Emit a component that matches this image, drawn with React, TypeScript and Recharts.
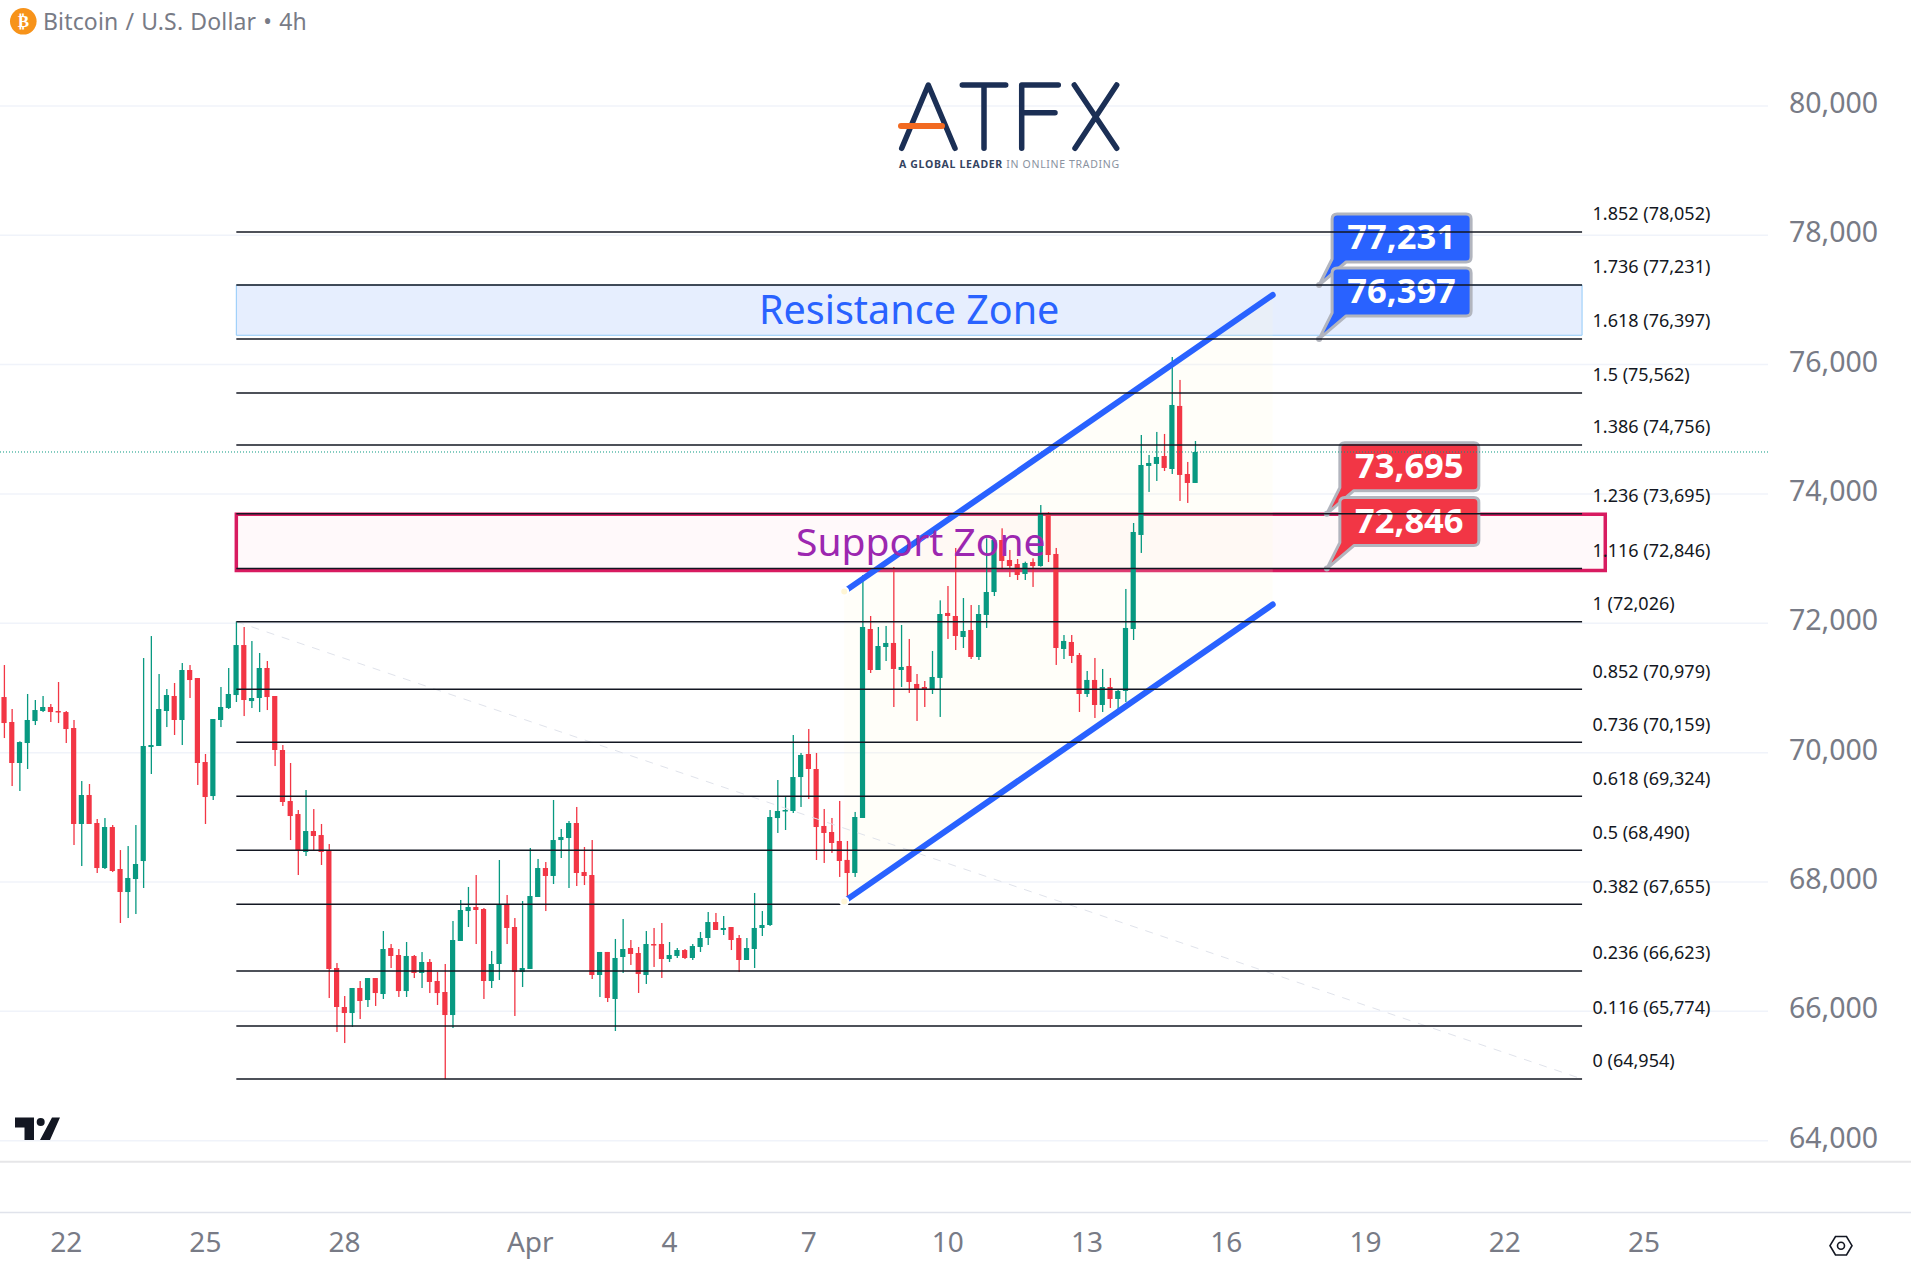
import React from "react";
import {Area, Bar, CartesianGrid, ComposedChart, ReferenceArea, ReferenceDot, ReferenceLine, XAxis, YAxis} from "recharts";

const highs = [
    71355,70675,70175,70907,70814,70876,70752,71092,70644,70505,
    69561,69515,68974,68989,68881,68494,68556,68881,71463,71803,
    71216,70984,71077,71386,71355,71154,69979,70520,71015,71309,
    72030,71943,71726,71541,71417,70876,70118,69840,69113,69422,
    69128,68897,68587,66747,66237,66361,66469,66515,66515,67242,
    67041,66964,67072,66871,66917,66809,66608,66732,67397,67722,
    67923,68108,67598,66933,68340,67799,67443,67706,68526,68356,
    68309,69268,68819,68943,69160,68541,68649,66918,66918,67119,
    67428,67103,66995,67242,67289,67366,67072,66979,66964,67041,
    67227,67536,67521,67474,67304,67180,67134,67830,67551,69113,
    69577,69330,70273,69995,70366,69995,69129,68990,69253,68634,
    69083,72747,72113,71943,71959,72871,71974,71758,71216,71108,
    71572,72355,72577,73165,72391,72283,72283,73314,73314,73469,
    73134,72995,72953,73005,73829,73721,73165,71819,71819,71541,
    71263,71464,71294,71155,70984,72531,73551,74912,74603,74959,
    74928,76118,75763,74495,74819,
];
const opens = [
    70860,70474,69840,70149,70489,70644,70706,70644,70628,70381,
    68897,69345,68912,68216,68850,68201,67845,68046,68324,70087,
    70103,70644,70876,70505,71278,71154,69855,69329,70505,70690,
    70891,71664,70798,70845,71309,70876,70041,69252,69051,68464,
    68788,68726,68489,66670,66067,65974,66361,66175,66515,66268,
    66979,66871,66314,66856,66593,66763,66469,66299,65943,67088,
    67551,67613,67582,66469,66732,67660,67304,66608,66655,67768,
    68216,68093,68649,68680,68912,68154,68108,66562,66918,66191,
    66840,66979,66902,66562,67041,67041,66809,66856,66948,66825,
    66995,67134,67381,67258,67304,67134,66794,66964,67289,67335,
    68989,69103,69098,69623,69979,69747,68866,68773,68634,68341,
    68139,68990,71912,71278,71634,71696,71278,71340,71062,71015,
    70969,71155,72160,72113,71788,71897,71479,72129,72484,73288,
    72979,72917,72763,72948,72886,73706,73072,71603,71711,71510,
    70907,71124,70737,71015,70830,70954,71912,73366,74433,74464,
    74587,74386,75361,74309,74170,
];
const closes = [
    70458,69840,70164,70505,70659,70706,70628,70633,70365,68897,
    69345,68897,68216,68850,68170,67845,68062,68278,70103,70118,
    70675,70891,70505,71278,71123,69840,69314,70520,70706,70907,
    71664,70814,70845,71309,70860,70041,69237,69020,68489,68788,
    68711,68464,66655,66067,65974,66361,66160,66515,66283,66964,
    66856,66314,66856,66593,66763,66454,66283,65943,67103,67567,
    67613,67567,66469,66732,67644,67289,66608,66670,67783,68216,
    68093,68649,68696,68912,68139,68093,66562,66918,66206,66825,
    66964,66887,66577,67041,67026,66809,66871,66948,66825,67010,
    67134,67381,67258,67289,67103,66794,66979,67289,67335,69005,
    69098,69113,69623,69964,69747,68850,68758,68603,68325,68139,
    69005,71943,71278,71649,71696,71294,71325,71093,70984,70984,
    71170,72144,72113,71804,71881,71479,72144,72484,73288,72964,
    72886,72747,72933,72886,73706,73056,71618,71727,71495,70907,
    71124,70737,71015,70830,70954,71928,73412,74448,74479,74572,
    74402,75376,74294,74170,74649,
];
const lows = [
    70226,69484,69407,69747,70427,70628,70474,70458,70149,68572,
    68247,68897,68139,68201,68154,67366,67443,67505,67907,69670,
    70103,70396,70273,70118,70845,69500,68897,69268,70396,70675,
    70783,70566,70690,70628,70659,69793,69175,68649,68108,68402,
    68479,68263,66206,65680,65510,65758,65881,66067,66083,66191,
    66670,66222,66222,66515,66361,66283,66098,64954,65742,67088,
    67304,67041,66191,66361,66485,67041,65928,66376,66655,67768,
    67551,67969,68371,67907,67938,67953,66500,66222,66144,65696,
    66593,66717,66284,66423,66686,66516,66763,66825,66809,66794,
    66918,67026,67258,67180,66948,66608,66794,66670,67165,67320,
    68758,68804,69067,69160,69283,68340,68294,68449,68078,67722,
    68078,68990,71232,71278,71417,70706,71015,70923,70490,70706,
    70907,70552,71758,71587,71618,71448,71433,71928,72422,72824,
    72716,72670,72670,72562,72876,72948,71356,71448,71386,70629,
    70861,70536,70629,70691,70613,70783,71742,73088,74031,74201,
    74355,74309,73892,73861,74170,
];

const priceTicks = [64000, 66000, 68000, 70000, 72000, 74000, 76000, 78000, 80000];
const dateTicks = [8, 26, 44, 68, 86, 104, 122, 140, 158, 176, 194, 212];
const dateLabels = ["22", "25", "28", "Apr", "4", "7", "10", "13", "16", "19", "22", "25"];

const fibRatios = ["1.852", "1.736", "1.618", "1.5", "1.386", "1.236", "1.116", "1", "0.852", "0.736", "0.618", "0.5", "0.382", "0.236", "0.116", "0"];
const fibPrices = [78052, 77231, 76397, 75562, 74756, 73695, 72846, 72026, 70979, 70159, 69324, 68490, 67655, 66623, 65774, 64954];

const channelBand = [
    {i: 108.6, band: [67700, 72490]},
    {i: 164, band: [72291, 77077]},
];
const calloutsBlue = [77231, 76397];
const calloutsRed = [73695, 72846];

const GREEN = "#089981";
const RED = "#f23645";
const GRAY = "#787b86";
const FONT = "'Noto Sans', sans-serif";

const rows = highs.map((h, i) => ({
    i,
    wick: [lows[i], h],
    body: [Math.min(opens[i], closes[i]), Math.max(opens[i], closes[i])],
    up: closes[i] >= opens[i],
}));

const CandlePart = (props: any) => {
    const {x, y, width, height, payload} = props;
    const h = Math.max(height, 1.5);
    return <rect x={x} y={y} width={width} height={h} fill={payload.up ? GREEN : RED} />;
};

const FibLabel = (props: any) => {
    const {viewBox, text} = props;
    return (
        <text x={viewBox.x + viewBox.width + 10.5} y={viewBox.y - 18} dy="0.35em" fontSize={18} fontFamily={FONT} fill="#131722">
            {text}
        </text>
    );
};

const Callout = (props: any) => {
    const {cx, cy, fill, dx, text} = props;
    const left = cx + dx;
    const top = cy - 71;
    const bottom = cy - 23;
    const right = left + 139;
    const d = `M${left + 5} ${top} H${right - 5} Q${right} ${top} ${right} ${top + 5} V${bottom - 5} Q${right} ${bottom} ${right - 5} ${bottom}`
        + ` H${left + 14} L${cx} ${cy} L${left} ${bottom - 3} V${top + 5} Q${left} ${top} ${left + 5} ${top} Z`;
    return (
        <g>
            <path d={d} fill={fill} stroke="#b2b5be" strokeWidth={3} strokeLinejoin="round" />
            <circle cx={cx} cy={cy} r={3} fill="#b2b5be" />
            <text x={left + 69.5} y={(top + bottom) / 2 - 1} dy="0.36em" textAnchor="middle" fontSize={34.5} fontWeight={700} fontFamily={FONT} fill="#ffffff">
                {text}
            </text>
        </g>
    );
};

// logo, title and the bits of TradingView frame that sit outside the plot
const Frame = () => (
    <svg width={1911} height={1277} style={{position: "absolute", left: 0, top: 0, pointerEvents: "none"}}>
        <circle cx={23.3} cy={21.3} r={13.3} fill="#f7931a" />
        <text x={23.3} y={21.3} dy="0.36em" textAnchor="middle" fontSize={17} fontWeight={700} fontFamily="'DejaVu Sans'" fill="#fff">₿</text>
        <text x={43} y={21.5} dy="0.36em" fontSize={23} letterSpacing={0.15} wordSpacing={1} fontFamily={FONT} fill={GRAY}>Bitcoin / U.S. Dollar • 4h</text>

        <g stroke="#1b2f55" strokeWidth={5.5} strokeLinecap="round" strokeLinejoin="round" fill="none">
            <path d="M901.7 148.3 L928.3 85 L955 148.3" />
            <path d="M962.3 85 H1005.7 M984 85 V148.3" />
            <path d="M1021.7 148.3 V85 H1058.3 M1021.7 112.7 H1055" />
            <path d="M1074.3 85 L1116.7 148.3 M1116.7 85 L1075 148.3" />
        </g>
        <path d="M901 126 H942" stroke="#f26a21" strokeWidth={6} strokeLinecap="round" />
        <text x={899} y={164} dy="0.36em" fontSize={10.5} letterSpacing={0.67} fontFamily={FONT} fill="#8a92a0">
            <tspan fontWeight={700} fill="#34435f">A GLOBAL LEADER</tspan> IN ONLINE TRADING
        </text>

        <path d="M15 1117.5 H34 V1140 H24.5 V1127.5 H15 Z M52 1117.5 H60 L50 1140 H40 Z" fill="#131722" />
        <circle cx={40.7} cy={1122} r={4} fill="#131722" />

        <line x1={0} x2={1911} y1={1161.7} y2={1161.7} stroke="#e6e6e8" strokeWidth={2} />
        <line x1={0} x2={1911} y1={1212.5} y2={1212.5} stroke="#e0e3eb" strokeWidth={1.5} />
        <polygon points="1830,1245.7 1835.5,1236.5 1846.5,1236.5 1852,1245.7 1846.5,1255 1835.5,1255" fill="none" stroke="#131722" strokeWidth={1.6} />
        <circle cx={1841} cy={1245.7} r={3.5} fill="none" stroke="#131722" strokeWidth={1.6} />
    </svg>
);

const App = () => {
    return (
        <div style={{position: "absolute", left: 0, top: 0, width: 1911, height: 1277, background: "#fff"}}>
            <ComposedChart width={1911} height={1277} data={rows} margin={{top: 0, right: 0, bottom: 0, left: 0}}>
                <CartesianGrid vertical={false} syncWithTicks stroke="#f0f3fa" strokeWidth={1.5} />
                <XAxis
                    dataKey="i"
                    type="number"
                    domain={[-0.556, 228.04]}
                    ticks={dateTicks}
                    interval={0}
                    height={115.3}
                    axisLine={false}
                    tickSize={0}
                    tickMargin={70}
                    tickFormatter={(v: number) => dateLabels[dateTicks.indexOf(v)]}
                    tick={{fontSize: 28, fill: GRAY, fontFamily: FONT}}
                />
                <XAxis xAxisId="bodies" dataKey="i" type="number" domain={[-0.556, 228.04]} hide />
                <YAxis
                    orientation="right"
                    width={143}
                    domain={[63675, 81638]}
                    ticks={priceTicks}
                    interval={0}
                    allowDataOverflow
                    axisLine={false}
                    tickSize={0}
                    tickMargin={21}
                    tickFormatter={(v: number) => v.toLocaleString("en-US")}
                    tick={{fontSize: 28.5, fill: GRAY, fontFamily: FONT, dy: -3}}
                />
                <ReferenceArea
                    x1={30}
                    x2={204}
                    y1={76454}
                    y2={77231}
                    fill="#e6eefe"
                    fillOpacity={1}
                    stroke="#90caf9"
                    strokeWidth={1}
                    label={{value: "Resistance Zone", fill: "#2962ff", fontSize: 39.5, fontFamily: FONT}}
                />
                <ReferenceArea
                    x1={30}
                    x2={207}
                    y1={72815}
                    y2={73685}
                    fill="#ffebee"
                    fillOpacity={0.3}
                    stroke="#d81b60"
                    strokeWidth={3.5}
                    label={{value: "Support Zone", fill: "#9c27b0", fontSize: 39, fontFamily: FONT}}
                />
                <Area data={channelBand} dataKey="band" type="linear" stroke="none" fill="#fff6d6" fillOpacity={0.15} isAnimationActive={false} />
                <Bar dataKey="wick" barSize={1.3} isAnimationActive={false} shape={CandlePart} />
                <Bar xAxisId="bodies" dataKey="body" barSize={5.2} isAnimationActive={false} shape={CandlePart} />
                <ReferenceLine y={closes[closes.length - 1]} stroke={GREEN} strokeWidth={1} strokeDasharray="1 2" />
                <ReferenceLine
                    segment={[{x: 30, y: fibPrices[7]}, {x: 204, y: fibPrices[15]}]}
                    stroke="#e0e3eb"
                    strokeWidth={1}
                    strokeDasharray="8 8"
                />
                <ReferenceLine
                    segment={[{x: channelBand[0].i, y: channelBand[0].band[1]}, {x: channelBand[1].i, y: channelBand[1].band[1]}]}
                    stroke="#2962ff"
                    strokeWidth={6}
                    strokeLinecap="round"
                    style={{strokeLinecap: "round"}}
                />
                <ReferenceLine
                    segment={[{x: channelBand[0].i, y: channelBand[0].band[0]}, {x: channelBand[1].i, y: channelBand[1].band[0]}]}
                    stroke="#2962ff"
                    strokeWidth={6}
                    strokeLinecap="round"
                    style={{strokeLinecap: "round"}}
                />
                {calloutsBlue.map((p) => (
                    <ReferenceDot
                        key={p}
                        x={170}
                        y={p}
                        r={0}
                        zIndex={350}
                        shape={(s: any) => <Callout {...s} fill="#2962ff" dx={13} text={p.toLocaleString("en-US")} />}
                    />
                ))}
                {calloutsRed.map((p) => (
                    <ReferenceDot
                        key={p}
                        x={171}
                        y={p}
                        r={0}
                        zIndex={350}
                        shape={(s: any) => <Callout {...s} fill="#f23645" dx={13} text={p.toLocaleString("en-US")} />}
                    />
                ))}
                {fibPrices.map((p, k) => (
                    <ReferenceLine
                        key={p}
                        segment={[{x: 30, y: p}, {x: 204, y: p}]}
                        stroke="#131722"
                        strokeWidth={1.5}
                        label={<FibLabel text={`${fibRatios[k]} (${p.toLocaleString("en-US")})`} />}
                    />
                ))}
            </ComposedChart>
            <Frame />
        </div>
    );
};

export default App;
